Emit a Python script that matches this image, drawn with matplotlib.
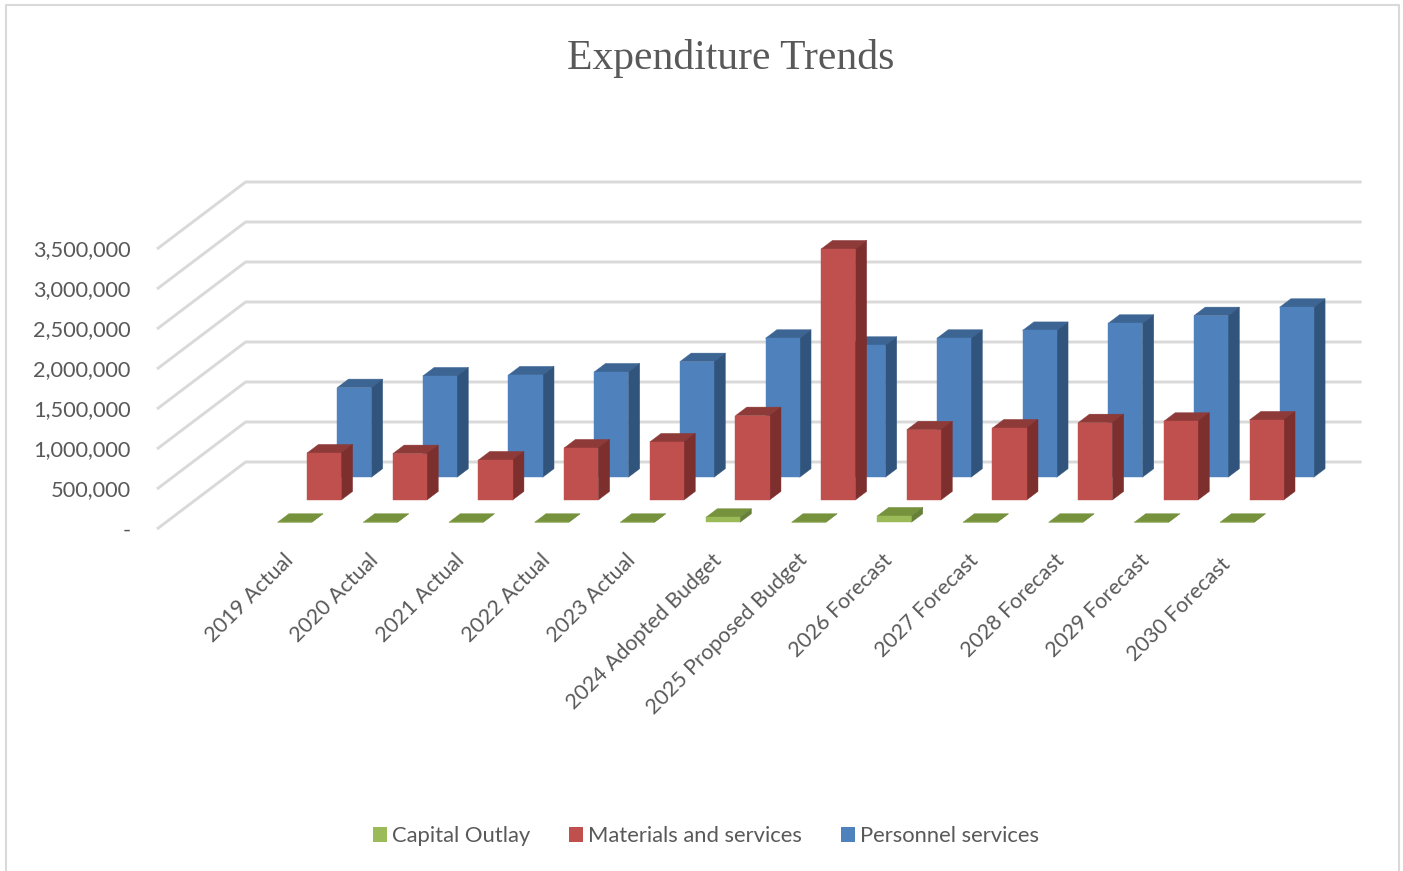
import matplotlib
matplotlib.use("Agg")
import matplotlib.pyplot as plt
from matplotlib.patches import Polygon, Patch
from matplotlib.lines import Line2D
from matplotlib.ticker import FuncFormatter
from matplotlib.transforms import Affine2D

categories = ["2019 Actual", "2020 Actual", "2021 Actual", "2022 Actual", "2023 Actual",
              "2024 Adopted Budget", "2025 Proposed Budget", "2026 Forecast",
              "2027 Forecast", "2028 Forecast", "2029 Forecast", "2030 Forecast"]
capital_outlay = [0, 0, 0, 0, 0, 62500, 0, 79000, 0, 0, 0, 0]
materials = [587500, 579000, 500000, 650000, 725000, 1054000, 3137500, 877500,
             900000, 966000, 984000, 1000000]
personnel = [1120000, 1266000, 1279000, 1316000, 1445000, 1737500, 1650000, 1737500,
             1835000, 1925000, 2020000, 2125000]
value_ticks = [0, 500000, 1000000, 1500000, 2000000, 2500000, 3000000, 3500000]

W, H = 1403, 871
TXT = "#595959"
GRID = "#d9d9d9"
FLOOR_DX = 1.033      # full floor depth in category units
FLOOR_DY = 837500     # full floor depth in value units
BAR_W = 0.398
BAR_D = 0.128
STEP = 0.998          # category spacing in axis units

fig = plt.figure(figsize=(W / 100, H / 100), dpi=100, facecolor="white")
ax = fig.add_axes([157 / W, (H - 529) / H, 1116 / W, 280 / H])
ax.set_xlim(0, 13)
ax.set_ylim(0, 3500000)
ax.patch.set_visible(False)
for s in ax.spines.values():
    s.set_visible(False)


def proj(x, depth, v):
    return (x + depth * FLOOR_DX, v + depth * FLOOR_DY)


for v in value_ticks:
    p0, p1 = proj(0, 0, v), proj(0, 1, v)
    ax.plot([p0[0], p1[0], 13 + FLOOR_DX], [p0[1], p1[1], p1[1]], color=GRID, lw=2.1,
            clip_on=False, zorder=1, solid_capstyle="butt", solid_joinstyle="miter")


def bar3d(xc, depth, v, front, top, side, z):
    x0, x1 = xc - BAR_W / 2, xc + BAR_W / 2
    d1 = depth + BAR_D
    faces = [
        ([proj(x0, depth, v), proj(x1, depth, v), proj(x1, d1, v), proj(x0, d1, v)], top),
        ([proj(x1, depth, 0), proj(x1, d1, 0), proj(x1, d1, v), proj(x1, depth, v)], side),
        ([proj(x0, depth, 0), proj(x1, depth, 0), proj(x1, depth, v), proj(x0, depth, v)], front),
    ]
    for pts, c in faces:
        ax.add_patch(Polygon(pts, closed=True, facecolor=c, edgecolor=c, lw=0.3,
                             clip_on=False, zorder=z))


rows = [
    (personnel, 0.772, "#4f81bd", "#3d6594", "#31547c", 3),
    (materials, 0.433, "#c0504d", "#8e3a38", "#7c2f2d", 4),
    (capital_outlay, 0.10, "#9bbb59", "#76923c", "#66803a", 5),
]
for vals, depth, front, top, side, z in rows:
    for i, v in enumerate(vals):
        bar3d(1.5 + i * STEP, depth, v, front, top, side, z)

ax.set_yticks(value_ticks)
ax.yaxis.set_major_formatter(FuncFormatter(lambda v, _: "-" if v == 0 else f"{v:,.0f}"))
ax.tick_params(axis="y", length=0, pad=19, labelsize=15.7, labelcolor=TXT)
ax.set_xticks([1.5 + i * STEP for i in range(len(categories))])
ax.set_xticklabels(categories, rotation=45, ha="right", rotation_mode="anchor")
ax.tick_params(axis="x", length=0, pad=15, labelsize=15.4, labelcolor=TXT)
for lab in ax.get_yticklabels():
    lab.set_fontfamily("Lato")
    lab.set_transform(lab.get_transform() + Affine2D().translate(0, 0.5))
xlabs = ax.get_xticklabels()
for lab in xlabs:
    lab.set_fontfamily("Lato")
    lab.set_transform(lab.get_transform() + Affine2D().translate(-3, 0))
xlabs[-1].set_transform(xlabs[-1].get_transform() + Affine2D().translate(-5, -4))

fig.text(731 / W, 1 - 69 / H, "Expenditure Trends", ha="center", va="baseline",
         family="Liberation Serif", fontsize=30, color=TXT)

handles = [Patch(facecolor="#9bbb59", label="Capital Outlay"),
           Patch(facecolor="#c0504d", label="Materials and services"),
           Patch(facecolor="#4f81bd", label="Personnel services")]
fig.legend(handles=handles, loc="center", bbox_to_anchor=(706 / W, 1 - 836 / H), ncol=3,
           frameon=False, handlelength=0.64, handleheight=0.64, handletextpad=0.22,
           columnspacing=1.78, prop={"family": "Lato", "size": 15.8}, labelcolor=TXT)

fig.add_artist(Line2D([5.5 / W, 5.5 / W, 1398.5 / W, 1398.5 / W], [0, 1 - 5.5 / H, 1 - 5.5 / H, 0],
                      color=GRID, lw=1.5))
fig.savefig("out.png", dpi=100, facecolor="white")
